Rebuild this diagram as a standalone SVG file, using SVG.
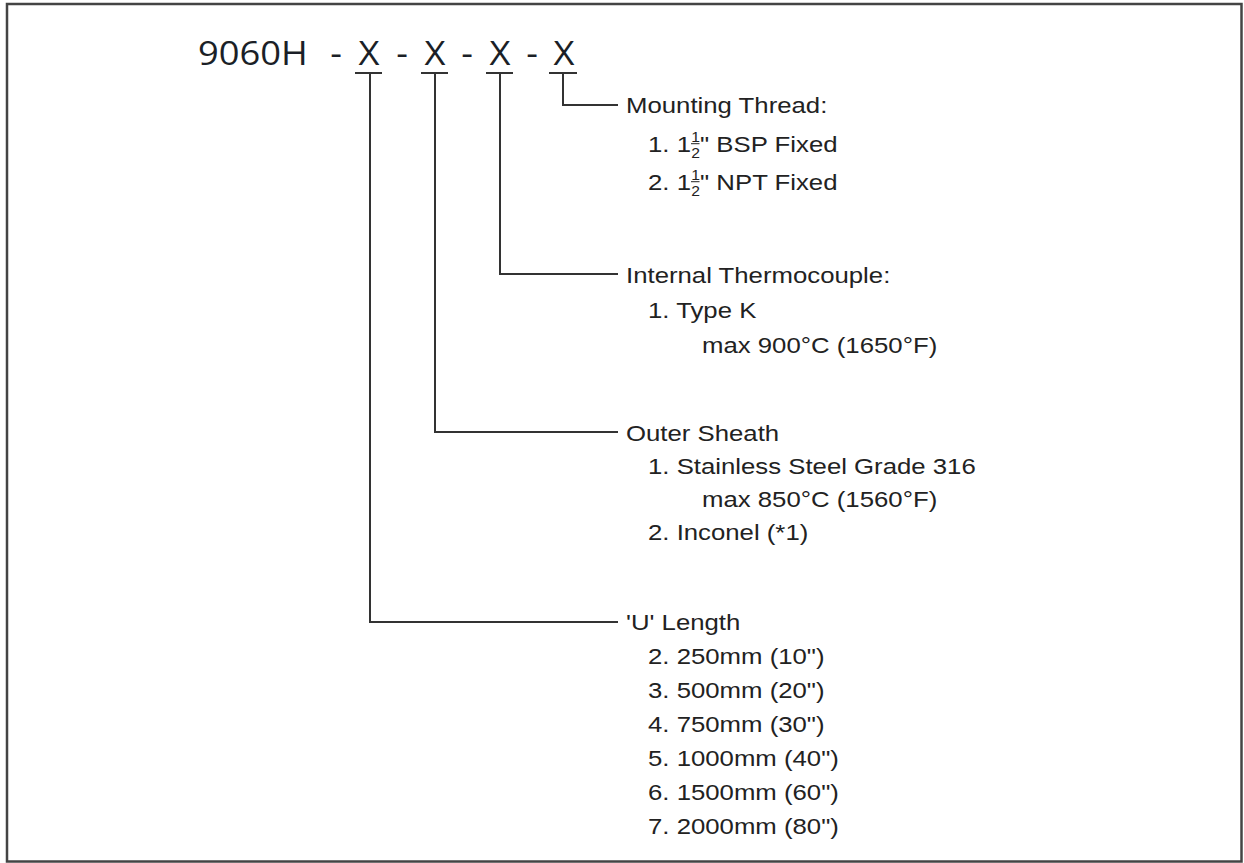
<svg xmlns="http://www.w3.org/2000/svg" width="1244" height="863" viewBox="0 0 1244 863">
  <style>
    .t { font-family: "Liberation Sans", Arial, sans-serif; font-size: 23px; fill: #222; }
    .s { font-family: "Liberation Sans", Arial, sans-serif; font-size: 14px; fill: #222; }
    .h { font-family: "Open Sans", "Liberation Sans", sans-serif; font-size: 33px; fill: #1b1f27; }
    .c { fill: none; stroke: #333; stroke-width: 2; }
    .u { stroke: #333; stroke-width: 2; }
  </style>
  <rect x="7" y="4" width="1234.5" height="857.5" fill="#fff" stroke="#444" stroke-width="2.5"/>

  <g id="title">
    <text class="h" transform="translate(198,65) scale(1.1,1)">9060H</text>
    <text class="h" text-anchor="middle" transform="translate(336,65) scale(1.1,1)">-</text>
    <text class="h" text-anchor="middle" transform="translate(369,65) scale(1.1,1)">X</text>
    <text class="h" text-anchor="middle" transform="translate(402,65) scale(1.1,1)">-</text>
    <text class="h" text-anchor="middle" transform="translate(435,65) scale(1.1,1)">X</text>
    <text class="h" text-anchor="middle" transform="translate(467,65) scale(1.1,1)">-</text>
    <text class="h" text-anchor="middle" transform="translate(500,65) scale(1.1,1)">X</text>
    <text class="h" text-anchor="middle" transform="translate(532,65) scale(1.1,1)">-</text>
    <text class="h" text-anchor="middle" transform="translate(564,65) scale(1.1,1)">X</text>
    <line class="u" x1="355" y1="73" x2="382" y2="73"/>
    <line class="u" x1="421" y1="73" x2="448" y2="73"/>
    <line class="u" x1="486" y1="73" x2="513" y2="73"/>
    <line class="u" x1="549" y1="73" x2="577" y2="73"/>
  </g>

  <g id="connectors">
    <polyline class="c" points="563,73 563,105 618,105"/>
    <polyline class="c" points="500,73 500,274 618,274"/>
    <polyline class="c" points="435,73 435,432 618,432"/>
    <polyline class="c" points="370,73 370,622 618,622"/>
  </g>

  <g id="node-mounting">
    <text class="t" transform="translate(626,113) scale(1.12,1)">Mounting Thread:</text>
    <g transform="translate(648,152) scale(1.12,1)">
      <text class="t" x="0" y="0">1. 1</text>
      <text class="s" x="38.6" y="-10">1</text>
      <line x1="38.4" y1="-8.3" x2="46" y2="-8.3" stroke="#222" stroke-width="1"/>
      <text class="s" x="38.6" y="5.5">2</text>
      <text class="t" x="46.5" y="0">" BSP Fixed</text>
    </g>
    <g transform="translate(648,190) scale(1.12,1)">
      <text class="t" x="0" y="0">2. 1</text>
      <text class="s" x="38.6" y="-10">1</text>
      <line x1="38.4" y1="-8.3" x2="46" y2="-8.3" stroke="#222" stroke-width="1"/>
      <text class="s" x="38.6" y="5.5">2</text>
      <text class="t" x="46.5" y="0">" NPT Fixed</text>
    </g>
  </g>

  <g id="node-thermocouple">
    <text class="t" transform="translate(626,283) scale(1.12,1)">Internal Thermocouple:</text>
    <text class="t" transform="translate(648,318) scale(1.12,1)">1. Type K</text>
    <text class="t" transform="translate(702,353) scale(1.12,1)">max 900°C (1650°F)</text>
  </g>

  <g id="node-sheath">
    <text class="t" transform="translate(626,441) scale(1.12,1)">Outer Sheath</text>
    <text class="t" transform="translate(648,474) scale(1.12,1)">1. Stainless Steel Grade 316</text>
    <text class="t" transform="translate(702,507) scale(1.12,1)">max 850°C (1560°F)</text>
    <text class="t" transform="translate(648,540) scale(1.12,1)">2. Inconel (*1)</text>
  </g>

  <g id="node-length">
    <text class="t" transform="translate(626,630) scale(1.12,1)">'U' Length</text>
    <text class="t" transform="translate(648,664) scale(1.12,1)">2. 250mm (10")</text>
    <text class="t" transform="translate(648,698) scale(1.12,1)">3. 500mm (20")</text>
    <text class="t" transform="translate(648,732) scale(1.12,1)">4. 750mm (30")</text>
    <text class="t" transform="translate(648,766) scale(1.12,1)">5. 1000mm (40")</text>
    <text class="t" transform="translate(648,800) scale(1.12,1)">6. 1500mm (60")</text>
    <text class="t" transform="translate(648,834) scale(1.12,1)">7. 2000mm (80")</text>
  </g>
</svg>
